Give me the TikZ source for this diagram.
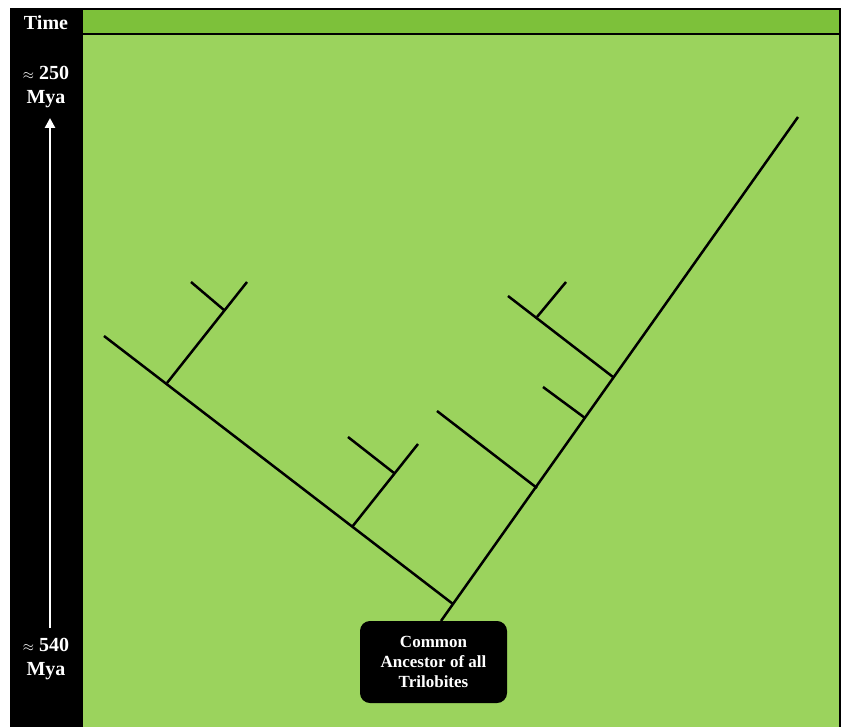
\documentclass[tikz,border=0pt]{standalone}
\usepackage{fontspec}
\setmainfont{Liberation Serif}
\usepackage{tikz}
\usetikzlibrary{arrows.meta}
\definecolor{triHead}{HTML}{7DC13A}
\definecolor{triField}{HTML}{9BD35D}

\begin{document}
\begin{tikzpicture}[
  x=1pt, y=-1pt,
  >=Latex,
  branch/.style={line width=2.5pt, draw=black},
  label/.style={text=white, font=\fontsize{20}{24}\selectfont\bfseries, align=center, inner sep=0pt},
  ancestor/.style={fill=black, rounded corners=3.5mm, text=white, align=center,
    font=\fontsize{17}{20}\selectfont\bfseries, minimum width=147pt, minimum height=82pt, inner sep=0pt}
]
  \useasboundingbox (0,0) rectangle (843,727);
  % frame and panels
  \fill[black] (10,8) rectangle (841,727);
  \fill[triHead] (83,10) rectangle (839,33);
  \fill[triField] (83,35) rectangle (839,727);
  % time axis
  \node[label] (time) at (46,23) {Time};
  \node[label] (young) at (46,87) {{\fontsize{14}{14}\selectfont$\approx$} 250\\Mya};
  \node[label] (old) at (46,659) {{\fontsize{14}{14}\selectfont$\approx$} 540\\Mya};
  \coordinate (axisLow) at (50,628);
  \coordinate (axisTop) at (50,118);
  \draw[white, line width=2.5pt, -{Triangle[length=10pt,width=10pt]}] (axisLow) -- (axisTop);
  % ancestor
  \node[ancestor] (ancestor) at (433.5,662) {Common\\Ancestor of all\\Trilobites};
  % tree junctions and tips
  \coordinate (root) at (453,604);
  \coordinate (rootIn) at (441,621);
  \coordinate (stemTip) at (798,117);
  \coordinate (leftTip) at (104,336);
  \coordinate (lA) at (352,527);
  \coordinate (lAtip) at (418,444);
  \coordinate (lAa) at (394,473);
  \coordinate (lAatip) at (348,437);
  \coordinate (lB) at (167,383);
  \coordinate (lBtip) at (247,282);
  \coordinate (lBa) at (224,310);
  \coordinate (lBatip) at (191,282);
  \coordinate (rA) at (537,488);
  \coordinate (rAtip) at (437,411);
  \coordinate (rB) at (585,418);
  \coordinate (rBtip) at (543,387);
  \coordinate (rC) at (613,377);
  \coordinate (rCtip) at (508,296);
  \coordinate (rCa) at (537,317);
  \coordinate (rCatip) at (566,282);
  % branches
  \draw[branch] (rootIn) -- (root) -- (stemTip);
  \draw[branch] (root) -- (leftTip);
  \draw[branch] (lA) -- (lAtip);
  \draw[branch] (lAa) -- (lAatip);
  \draw[branch] (lB) -- (lBtip);
  \draw[branch] (lBa) -- (lBatip);
  \draw[branch] (rA) -- (rAtip);
  \draw[branch] (rB) -- (rBtip);
  \draw[branch] (rC) -- (rCtip);
  \draw[branch] (rCa) -- (rCatip);
\end{tikzpicture}
\end{document}
